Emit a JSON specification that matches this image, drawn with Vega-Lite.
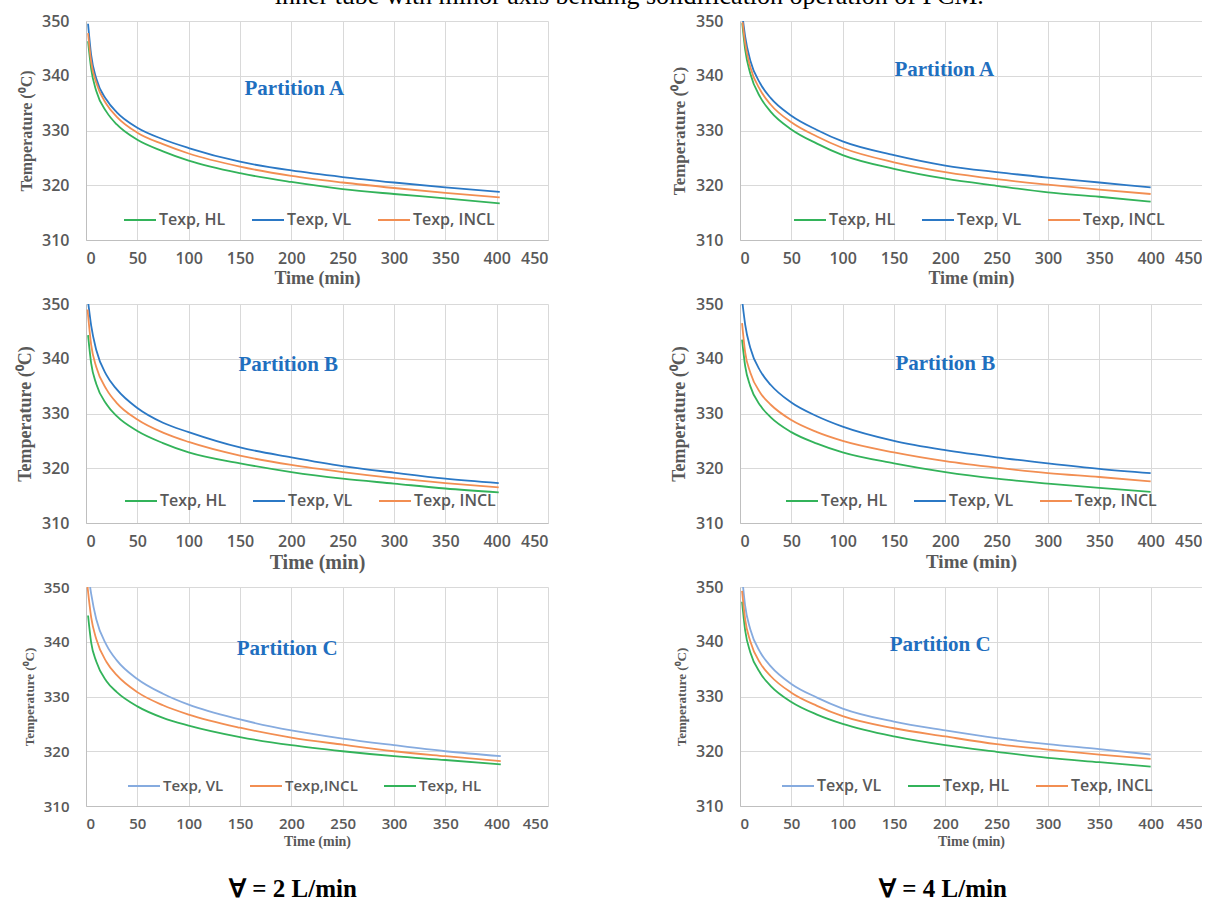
{
  "$schema": "https://vega.github.io/schema/vega-lite/v6.json",
  "background": "white",
  "padding": {"left": 16, "top": -17, "right": 0, "bottom": 0},
  "title": {"text": "inner tube with minor axis bending solidification operation of PCM.", "anchor": "middle", "orient": "top", "offset": 4, "dx": 20, "font": "Liberation Serif", "fontSize": 26, "fontWeight": "normal", "color": "#000000"},
  "datasets": {
    "curves": [
      {"p":"A2","s":"Texp, HL","t":2,"v":346.3},{"p":"A2","s":"Texp, HL","t":5,"v":341.3},{"p":"A2","s":"Texp, HL","t":10,"v":337.2},{"p":"A2","s":"Texp, HL","t":20,"v":333.4},{"p":"A2","s":"Texp, HL","t":30,"v":331.1},{"p":"A2","s":"Texp, HL","t":50,"v":328.3},{"p":"A2","s":"Texp, HL","t":75,"v":326.2},{"p":"A2","s":"Texp, HL","t":100,"v":324.5},{"p":"A2","s":"Texp, HL","t":150,"v":322.2},{"p":"A2","s":"Texp, HL","t":200,"v":320.6},{"p":"A2","s":"Texp, HL","t":250,"v":319.3},{"p":"A2","s":"Texp, HL","t":300,"v":318.4},{"p":"A2","s":"Texp, HL","t":350,"v":317.6},{"p":"A2","s":"Texp, HL","t":403,"v":316.7},
      {"p":"A2","s":"Texp, VL","t":2,"v":349.5},{"p":"A2","s":"Texp, VL","t":5,"v":343.8},{"p":"A2","s":"Texp, VL","t":10,"v":339.5},{"p":"A2","s":"Texp, VL","t":20,"v":335.6},{"p":"A2","s":"Texp, VL","t":30,"v":333.3},{"p":"A2","s":"Texp, VL","t":50,"v":330.5},{"p":"A2","s":"Texp, VL","t":75,"v":328.4},{"p":"A2","s":"Texp, VL","t":100,"v":326.8},{"p":"A2","s":"Texp, VL","t":150,"v":324.3},{"p":"A2","s":"Texp, VL","t":200,"v":322.7},{"p":"A2","s":"Texp, VL","t":250,"v":321.5},{"p":"A2","s":"Texp, VL","t":300,"v":320.5},{"p":"A2","s":"Texp, VL","t":350,"v":319.6},{"p":"A2","s":"Texp, VL","t":403,"v":318.8},
      {"p":"A2","s":"Texp, INCL","t":2,"v":347.8},{"p":"A2","s":"Texp, INCL","t":5,"v":342.6},{"p":"A2","s":"Texp, INCL","t":10,"v":338.7},{"p":"A2","s":"Texp, INCL","t":20,"v":334.8},{"p":"A2","s":"Texp, INCL","t":30,"v":332.5},{"p":"A2","s":"Texp, INCL","t":50,"v":329.6},{"p":"A2","s":"Texp, INCL","t":75,"v":327.5},{"p":"A2","s":"Texp, INCL","t":100,"v":325.8},{"p":"A2","s":"Texp, INCL","t":150,"v":323.4},{"p":"A2","s":"Texp, INCL","t":200,"v":321.7},{"p":"A2","s":"Texp, INCL","t":250,"v":320.5},{"p":"A2","s":"Texp, INCL","t":300,"v":319.5},{"p":"A2","s":"Texp, INCL","t":350,"v":318.6},{"p":"A2","s":"Texp, INCL","t":403,"v":317.8},

      {"p":"A4","s":"Texp, HL","t":2.2,"v":349.6},{"p":"A4","s":"Texp, HL","t":5,"v":344.8},{"p":"A4","s":"Texp, HL","t":10,"v":340.4},{"p":"A4","s":"Texp, HL","t":20,"v":336.0},{"p":"A4","s":"Texp, HL","t":30,"v":333.4},{"p":"A4","s":"Texp, HL","t":50,"v":330.2},{"p":"A4","s":"Texp, HL","t":75,"v":327.6},{"p":"A4","s":"Texp, HL","t":100,"v":325.5},{"p":"A4","s":"Texp, HL","t":150,"v":323.0},{"p":"A4","s":"Texp, HL","t":200,"v":321.2},{"p":"A4","s":"Texp, HL","t":250,"v":319.9},{"p":"A4","s":"Texp, HL","t":300,"v":318.7},{"p":"A4","s":"Texp, HL","t":350,"v":317.9},{"p":"A4","s":"Texp, HL","t":400,"v":317.0},
      {"p":"A4","s":"Texp, VL","t":3,"v":350.0},{"p":"A4","s":"Texp, VL","t":5,"v":347.2},{"p":"A4","s":"Texp, VL","t":10,"v":342.8},{"p":"A4","s":"Texp, VL","t":20,"v":338.5},{"p":"A4","s":"Texp, VL","t":30,"v":335.9},{"p":"A4","s":"Texp, VL","t":50,"v":332.7},{"p":"A4","s":"Texp, VL","t":75,"v":330.1},{"p":"A4","s":"Texp, VL","t":100,"v":328.0},{"p":"A4","s":"Texp, VL","t":150,"v":325.5},{"p":"A4","s":"Texp, VL","t":200,"v":323.6},{"p":"A4","s":"Texp, VL","t":250,"v":322.4},{"p":"A4","s":"Texp, VL","t":300,"v":321.4},{"p":"A4","s":"Texp, VL","t":350,"v":320.5},{"p":"A4","s":"Texp, VL","t":400,"v":319.6},
      {"p":"A4","s":"Texp, INCL","t":2.5,"v":349.8},{"p":"A4","s":"Texp, INCL","t":5,"v":346.0},{"p":"A4","s":"Texp, INCL","t":10,"v":341.6},{"p":"A4","s":"Texp, INCL","t":20,"v":337.3},{"p":"A4","s":"Texp, INCL","t":30,"v":334.7},{"p":"A4","s":"Texp, INCL","t":50,"v":331.5},{"p":"A4","s":"Texp, INCL","t":75,"v":328.9},{"p":"A4","s":"Texp, INCL","t":100,"v":326.8},{"p":"A4","s":"Texp, INCL","t":150,"v":324.2},{"p":"A4","s":"Texp, INCL","t":200,"v":322.4},{"p":"A4","s":"Texp, INCL","t":250,"v":321.1},{"p":"A4","s":"Texp, INCL","t":300,"v":320.1},{"p":"A4","s":"Texp, INCL","t":350,"v":319.2},{"p":"A4","s":"Texp, INCL","t":400,"v":318.4},

      {"p":"B2","s":"Texp, HL","t":2,"v":344.3},{"p":"B2","s":"Texp, HL","t":5,"v":339.2},{"p":"B2","s":"Texp, HL","t":10,"v":335.4},{"p":"B2","s":"Texp, HL","t":20,"v":331.7},{"p":"B2","s":"Texp, HL","t":30,"v":329.5},{"p":"B2","s":"Texp, HL","t":50,"v":326.8},{"p":"B2","s":"Texp, HL","t":75,"v":324.6},{"p":"B2","s":"Texp, HL","t":100,"v":322.9},{"p":"B2","s":"Texp, HL","t":150,"v":320.9},{"p":"B2","s":"Texp, HL","t":200,"v":319.3},{"p":"B2","s":"Texp, HL","t":250,"v":318.1},{"p":"B2","s":"Texp, HL","t":300,"v":317.2},{"p":"B2","s":"Texp, HL","t":350,"v":316.3},{"p":"B2","s":"Texp, HL","t":402,"v":315.6},
      {"p":"B2","s":"Texp, VL","t":2.3,"v":350.0},{"p":"B2","s":"Texp, VL","t":5,"v":346.1},{"p":"B2","s":"Texp, VL","t":10,"v":341.6},{"p":"B2","s":"Texp, VL","t":20,"v":337.0},{"p":"B2","s":"Texp, VL","t":30,"v":334.4},{"p":"B2","s":"Texp, VL","t":50,"v":331.0},{"p":"B2","s":"Texp, VL","t":75,"v":328.3},{"p":"B2","s":"Texp, VL","t":100,"v":326.6},{"p":"B2","s":"Texp, VL","t":150,"v":323.8},{"p":"B2","s":"Texp, VL","t":200,"v":322.0},{"p":"B2","s":"Texp, VL","t":250,"v":320.4},{"p":"B2","s":"Texp, VL","t":300,"v":319.2},{"p":"B2","s":"Texp, VL","t":350,"v":318.1},{"p":"B2","s":"Texp, VL","t":402,"v":317.3},
      {"p":"B2","s":"Texp, INCL","t":1.5,"v":349.0},{"p":"B2","s":"Texp, INCL","t":5,"v":342.6},{"p":"B2","s":"Texp, INCL","t":10,"v":338.5},{"p":"B2","s":"Texp, INCL","t":20,"v":334.4},{"p":"B2","s":"Texp, INCL","t":30,"v":331.9},{"p":"B2","s":"Texp, INCL","t":50,"v":328.9},{"p":"B2","s":"Texp, INCL","t":75,"v":326.5},{"p":"B2","s":"Texp, INCL","t":100,"v":324.8},{"p":"B2","s":"Texp, INCL","t":150,"v":322.3},{"p":"B2","s":"Texp, INCL","t":200,"v":320.6},{"p":"B2","s":"Texp, INCL","t":250,"v":319.3},{"p":"B2","s":"Texp, INCL","t":300,"v":318.2},{"p":"B2","s":"Texp, INCL","t":350,"v":317.3},{"p":"B2","s":"Texp, INCL","t":402,"v":316.5},

      {"p":"B4","s":"Texp, HL","t":2,"v":343.5},{"p":"B4","s":"Texp, HL","t":5,"v":338.7},{"p":"B4","s":"Texp, HL","t":10,"v":335.0},{"p":"B4","s":"Texp, HL","t":20,"v":331.4},{"p":"B4","s":"Texp, HL","t":30,"v":329.3},{"p":"B4","s":"Texp, HL","t":50,"v":326.6},{"p":"B4","s":"Texp, HL","t":75,"v":324.5},{"p":"B4","s":"Texp, HL","t":100,"v":322.9},{"p":"B4","s":"Texp, HL","t":150,"v":320.9},{"p":"B4","s":"Texp, HL","t":200,"v":319.3},{"p":"B4","s":"Texp, HL","t":250,"v":318.1},{"p":"B4","s":"Texp, HL","t":300,"v":317.2},{"p":"B4","s":"Texp, HL","t":350,"v":316.4},{"p":"B4","s":"Texp, HL","t":400,"v":315.7},
      {"p":"B4","s":"Texp, VL","t":2.5,"v":350.0},{"p":"B4","s":"Texp, VL","t":5,"v":346.3},{"p":"B4","s":"Texp, VL","t":10,"v":342.0},{"p":"B4","s":"Texp, VL","t":20,"v":337.7},{"p":"B4","s":"Texp, VL","t":30,"v":335.2},{"p":"B4","s":"Texp, VL","t":50,"v":332.0},{"p":"B4","s":"Texp, VL","t":75,"v":329.5},{"p":"B4","s":"Texp, VL","t":100,"v":327.6},{"p":"B4","s":"Texp, VL","t":150,"v":325.0},{"p":"B4","s":"Texp, VL","t":200,"v":323.3},{"p":"B4","s":"Texp, VL","t":250,"v":322.0},{"p":"B4","s":"Texp, VL","t":300,"v":320.9},{"p":"B4","s":"Texp, VL","t":350,"v":319.9},{"p":"B4","s":"Texp, VL","t":400,"v":319.1},
      {"p":"B4","s":"Texp, INCL","t":2,"v":346.5},{"p":"B4","s":"Texp, INCL","t":5,"v":341.2},{"p":"B4","s":"Texp, INCL","t":10,"v":337.5},{"p":"B4","s":"Texp, INCL","t":20,"v":333.7},{"p":"B4","s":"Texp, INCL","t":30,"v":331.6},{"p":"B4","s":"Texp, INCL","t":50,"v":328.8},{"p":"B4","s":"Texp, INCL","t":75,"v":326.6},{"p":"B4","s":"Texp, INCL","t":100,"v":325.0},{"p":"B4","s":"Texp, INCL","t":150,"v":322.9},{"p":"B4","s":"Texp, INCL","t":200,"v":321.3},{"p":"B4","s":"Texp, INCL","t":250,"v":320.1},{"p":"B4","s":"Texp, INCL","t":300,"v":319.1},{"p":"B4","s":"Texp, INCL","t":350,"v":318.4},{"p":"B4","s":"Texp, INCL","t":400,"v":317.6},

      {"p":"C2","s":"Texp, VL","t":4,"v":350.0},{"p":"C2","s":"Texp, VL","t":5,"v":348.8},{"p":"C2","s":"Texp, VL","t":10,"v":344.1},{"p":"C2","s":"Texp, VL","t":20,"v":339.4},{"p":"C2","s":"Texp, VL","t":30,"v":336.6},{"p":"C2","s":"Texp, VL","t":50,"v":333.2},{"p":"C2","s":"Texp, VL","t":75,"v":330.5},{"p":"C2","s":"Texp, VL","t":100,"v":328.5},{"p":"C2","s":"Texp, VL","t":150,"v":325.8},{"p":"C2","s":"Texp, VL","t":200,"v":323.8},{"p":"C2","s":"Texp, VL","t":250,"v":322.3},{"p":"C2","s":"Texp, VL","t":300,"v":321.1},{"p":"C2","s":"Texp, VL","t":350,"v":320.0},{"p":"C2","s":"Texp, VL","t":404,"v":319.1},
      {"p":"C2","s":"Texp,INCL","t":1.5,"v":350.0},{"p":"C2","s":"Texp,INCL","t":5,"v":344.5},{"p":"C2","s":"Texp,INCL","t":10,"v":340.5},{"p":"C2","s":"Texp,INCL","t":20,"v":336.3},{"p":"C2","s":"Texp,INCL","t":30,"v":333.9},{"p":"C2","s":"Texp,INCL","t":50,"v":330.8},{"p":"C2","s":"Texp,INCL","t":75,"v":328.4},{"p":"C2","s":"Texp,INCL","t":100,"v":326.7},{"p":"C2","s":"Texp,INCL","t":150,"v":324.3},{"p":"C2","s":"Texp,INCL","t":200,"v":322.5},{"p":"C2","s":"Texp,INCL","t":250,"v":321.2},{"p":"C2","s":"Texp,INCL","t":300,"v":320.0},{"p":"C2","s":"Texp,INCL","t":350,"v":319.1},{"p":"C2","s":"Texp,INCL","t":404,"v":318.2},
      {"p":"C2","s":"Texp, HL","t":2,"v":344.8},{"p":"C2","s":"Texp, HL","t":5,"v":339.9},{"p":"C2","s":"Texp, HL","t":10,"v":336.4},{"p":"C2","s":"Texp, HL","t":20,"v":332.8},{"p":"C2","s":"Texp, HL","t":30,"v":330.8},{"p":"C2","s":"Texp, HL","t":50,"v":328.2},{"p":"C2","s":"Texp, HL","t":75,"v":326.1},{"p":"C2","s":"Texp, HL","t":100,"v":324.7},{"p":"C2","s":"Texp, HL","t":150,"v":322.6},{"p":"C2","s":"Texp, HL","t":200,"v":321.1},{"p":"C2","s":"Texp, HL","t":250,"v":320.0},{"p":"C2","s":"Texp, HL","t":300,"v":319.1},{"p":"C2","s":"Texp, HL","t":350,"v":318.4},{"p":"C2","s":"Texp, HL","t":404,"v":317.6},

      {"p":"C4","s":"Texp, VL","t":3,"v":350.0},{"p":"C4","s":"Texp, VL","t":5,"v":346.6},{"p":"C4","s":"Texp, VL","t":10,"v":342.3},{"p":"C4","s":"Texp, VL","t":20,"v":338.0},{"p":"C4","s":"Texp, VL","t":30,"v":335.5},{"p":"C4","s":"Texp, VL","t":50,"v":332.3},{"p":"C4","s":"Texp, VL","t":75,"v":329.8},{"p":"C4","s":"Texp, VL","t":100,"v":327.8},{"p":"C4","s":"Texp, VL","t":150,"v":325.4},{"p":"C4","s":"Texp, VL","t":200,"v":323.8},{"p":"C4","s":"Texp, VL","t":250,"v":322.4},{"p":"C4","s":"Texp, VL","t":300,"v":321.3},{"p":"C4","s":"Texp, VL","t":350,"v":320.4},{"p":"C4","s":"Texp, VL","t":400,"v":319.4},
      {"p":"C4","s":"Texp, HL","t":2,"v":347.3},{"p":"C4","s":"Texp, HL","t":5,"v":342.1},{"p":"C4","s":"Texp, HL","t":10,"v":338.1},{"p":"C4","s":"Texp, HL","t":20,"v":334.2},{"p":"C4","s":"Texp, HL","t":30,"v":331.9},{"p":"C4","s":"Texp, HL","t":50,"v":329.0},{"p":"C4","s":"Texp, HL","t":75,"v":326.7},{"p":"C4","s":"Texp, HL","t":100,"v":325.0},{"p":"C4","s":"Texp, HL","t":150,"v":322.7},{"p":"C4","s":"Texp, HL","t":200,"v":321.1},{"p":"C4","s":"Texp, HL","t":250,"v":319.9},{"p":"C4","s":"Texp, HL","t":300,"v":318.8},{"p":"C4","s":"Texp, HL","t":350,"v":318.0},{"p":"C4","s":"Texp, HL","t":400,"v":317.2},
      {"p":"C4","s":"Texp, INCL","t":2,"v":349.3},{"p":"C4","s":"Texp, INCL","t":5,"v":344.1},{"p":"C4","s":"Texp, INCL","t":10,"v":340.1},{"p":"C4","s":"Texp, INCL","t":20,"v":336.0},{"p":"C4","s":"Texp, INCL","t":30,"v":333.7},{"p":"C4","s":"Texp, INCL","t":50,"v":330.7},{"p":"C4","s":"Texp, INCL","t":75,"v":328.3},{"p":"C4","s":"Texp, INCL","t":100,"v":326.4},{"p":"C4","s":"Texp, INCL","t":150,"v":324.2},{"p":"C4","s":"Texp, INCL","t":200,"v":322.7},{"p":"C4","s":"Texp, INCL","t":250,"v":321.3},{"p":"C4","s":"Texp, INCL","t":300,"v":320.3},{"p":"C4","s":"Texp, INCL","t":350,"v":319.4},{"p":"C4","s":"Texp, INCL","t":400,"v":318.6}
    ]
  },
  "columns": 2,
  "spacing": {"row": 64, "column": 192},
  "bounds": "flush",
  "concat": [
    {
      "width": 462, "height": 219,
      "layer": [
        {
          "data": {"name": "curves"},
          "transform": [{"filter": "datum.p == 'A2'"}],
          "mark": {"type": "line", "interpolate": "monotone", "strokeWidth": 1.8, "clip": true},
          "encoding": {
            "x": {"field": "t", "type": "quantitative", "scale": {"domain": [0, 450], "nice": false}, "axis": {"values": [0,50,100,150,200,250,300,350,400,450], "title": "Time (min)", "titleFontSize": 18}},
            "y": {"field": "v", "type": "quantitative", "scale": {"domain": [310, 350], "nice": false, "zero": false}, "axis": {"values": [310,320,330,340,350], "title": "Temperature (⁰C)", "titleFontSize": 16}},
            "color": {"field": "s", "type": "nominal", "scale": {"domain": ["Texp, HL", "Texp, VL", "Texp, INCL"], "range": ["#33b35a", "#2b78c5", "#f28e52"]}, "legend": {"orient": "none", "legendX": 37, "legendY": 182, "direction": "horizontal", "title": null}}
          }
        },
        {
          "data": {"values": [{"label": "Partition A", "t": 203, "v": 337.6}]},
          "mark": {"type": "text", "font": "Liberation Serif", "fontWeight": "bold", "fontSize": 21, "color": "#1f6fbf"},
          "encoding": {"x": {"field": "t", "type": "quantitative"}, "y": {"field": "v", "type": "quantitative"}, "text": {"field": "label"}}
        }
      ]
    },
    {
      "width": 462, "height": 219,
      "layer": [
        {
          "data": {"name": "curves"},
          "transform": [{"filter": "datum.p == 'A4'"}],
          "mark": {"type": "line", "interpolate": "monotone", "strokeWidth": 1.8, "clip": true},
          "encoding": {
            "x": {"field": "t", "type": "quantitative", "scale": {"domain": [0, 450], "nice": false}, "axis": {"values": [0,50,100,150,200,250,300,350,400,450], "title": "Time (min)", "titleFontSize": 18}},
            "y": {"field": "v", "type": "quantitative", "scale": {"domain": [310, 350], "nice": false, "zero": false}, "axis": {"values": [310,320,330,340,350], "title": "Temperature (⁰C)", "titleFontSize": 17}},
            "color": {"field": "s", "type": "nominal", "scale": {"domain": ["Texp, HL", "Texp, VL", "Texp, INCL"], "range": ["#33b35a", "#2b78c5", "#f28e52"]}, "legend": {"orient": "none", "legendX": 53, "legendY": 182, "direction": "horizontal", "title": null}}
          }
        },
        {
          "data": {"values": [{"label": "Partition A", "t": 199, "v": 341.0}]},
          "mark": {"type": "text", "font": "Liberation Serif", "fontWeight": "bold", "fontSize": 21, "color": "#1f6fbf"},
          "encoding": {"x": {"field": "t", "type": "quantitative"}, "y": {"field": "v", "type": "quantitative"}, "text": {"field": "label"}}
        }
      ]
    },
    {
      "width": 462, "height": 219,
      "layer": [
        {
          "data": {"name": "curves"},
          "transform": [{"filter": "datum.p == 'B2'"}],
          "mark": {"type": "line", "interpolate": "monotone", "strokeWidth": 1.8, "clip": true},
          "encoding": {
            "x": {"field": "t", "type": "quantitative", "scale": {"domain": [0, 450], "nice": false}, "axis": {"values": [0,50,100,150,200,250,300,350,400,450], "title": "Time (min)", "titleFontSize": 20}},
            "y": {"field": "v", "type": "quantitative", "scale": {"domain": [310, 350], "nice": false, "zero": false}, "axis": {"values": [310,320,330,340,350], "title": "Temperature (⁰C)", "titleFontSize": 18}},
            "color": {"field": "s", "type": "nominal", "scale": {"domain": ["Texp, HL", "Texp, VL", "Texp, INCL"], "range": ["#33b35a", "#2b78c5", "#f28e52"]}, "legend": {"orient": "none", "legendX": 38, "legendY": 180, "direction": "horizontal", "title": null}}
          }
        },
        {
          "data": {"values": [{"label": "Partition B", "t": 197, "v": 338.8}]},
          "mark": {"type": "text", "font": "Liberation Serif", "fontWeight": "bold", "fontSize": 21, "color": "#1f6fbf"},
          "encoding": {"x": {"field": "t", "type": "quantitative"}, "y": {"field": "v", "type": "quantitative"}, "text": {"field": "label"}}
        }
      ]
    },
    {
      "width": 462, "height": 219,
      "layer": [
        {
          "data": {"name": "curves"},
          "transform": [{"filter": "datum.p == 'B4'"}],
          "mark": {"type": "line", "interpolate": "monotone", "strokeWidth": 1.8, "clip": true},
          "encoding": {
            "x": {"field": "t", "type": "quantitative", "scale": {"domain": [0, 450], "nice": false}, "axis": {"values": [0,50,100,150,200,250,300,350,400,450], "title": "Time (min)", "titleFontSize": 19}},
            "y": {"field": "v", "type": "quantitative", "scale": {"domain": [310, 350], "nice": false, "zero": false}, "axis": {"values": [310,320,330,340,350], "title": "Temperature (⁰C)", "titleFontSize": 18}},
            "color": {"field": "s", "type": "nominal", "scale": {"domain": ["Texp, HL", "Texp, VL", "Texp, INCL"], "range": ["#33b35a", "#2b78c5", "#f28e52"]}, "legend": {"orient": "none", "legendX": 45, "legendY": 180, "direction": "horizontal", "title": null}}
          }
        },
        {
          "data": {"values": [{"label": "Partition B", "t": 200, "v": 339.0}]},
          "mark": {"type": "text", "font": "Liberation Serif", "fontWeight": "bold", "fontSize": 21, "color": "#1f6fbf"},
          "encoding": {"x": {"field": "t", "type": "quantitative"}, "y": {"field": "v", "type": "quantitative"}, "text": {"field": "label"}}
        }
      ]
    },
    {
      "width": 462, "height": 219,
      "title": {"text": "∀ = 2 L/min", "orient": "bottom", "anchor": "middle", "offset": 29, "dx": -24, "font": "Liberation Serif", "fontSize": 25, "fontWeight": "bold", "color": "#000000"},
      "layer": [
        {
          "data": {"name": "curves"},
          "transform": [{"filter": "datum.p == 'C2'"}],
          "mark": {"type": "line", "interpolate": "monotone", "strokeWidth": 1.8, "clip": true},
          "encoding": {
            "x": {"field": "t", "type": "quantitative", "scale": {"domain": [0, 450], "nice": false}, "axis": {"values": [0,50,100,150,200,250,300,350,400,450], "title": "Time (min)", "titleFontSize": 14, "labelFontSize": 15}},
            "y": {"field": "v", "type": "quantitative", "scale": {"domain": [310, 350], "nice": false, "zero": false}, "axis": {"values": [310,320,330,340,350], "title": "Temperature (⁰C)", "titleFontSize": 13, "labelFontSize": 15}},
            "color": {"field": "s", "type": "nominal", "scale": {"domain": ["Texp, VL", "Texp,INCL", "Texp, HL"], "range": ["#86abdf", "#f28e52", "#33b35a"]}, "legend": {"orient": "none", "legendX": 41, "legendY": 182, "direction": "horizontal", "title": null, "labelFontSize": 15}}
          }
        },
        {
          "data": {"values": [{"label": "Partition C", "t": 196, "v": 338.7}]},
          "mark": {"type": "text", "font": "Liberation Serif", "fontWeight": "bold", "fontSize": 21, "color": "#1f6fbf"},
          "encoding": {"x": {"field": "t", "type": "quantitative"}, "y": {"field": "v", "type": "quantitative"}, "text": {"field": "label"}}
        }
      ]
    },
    {
      "width": 462, "height": 219,
      "title": {"text": "∀ = 4 L/min", "orient": "bottom", "anchor": "middle", "offset": 29, "dx": -28, "font": "Liberation Serif", "fontSize": 25, "fontWeight": "bold", "color": "#000000"},
      "layer": [
        {
          "data": {"name": "curves"},
          "transform": [{"filter": "datum.p == 'C4'"}],
          "mark": {"type": "line", "interpolate": "monotone", "strokeWidth": 1.8, "clip": true},
          "encoding": {
            "x": {"field": "t", "type": "quantitative", "scale": {"domain": [0, 450], "nice": false}, "axis": {"values": [0,50,100,150,200,250,300,350,400,450], "title": "Time (min)", "titleFontSize": 14, "labelFontSize": 15}},
            "y": {"field": "v", "type": "quantitative", "scale": {"domain": [310, 350], "nice": false, "zero": false}, "axis": {"values": [310,320,330,340,350], "title": "Temperature (⁰C)", "titleFontSize": 13}},
            "color": {"field": "s", "type": "nominal", "scale": {"domain": ["Texp, VL", "Texp, HL", "Texp, INCL"], "range": ["#86abdf", "#33b35a", "#f28e52"]}, "legend": {"orient": "none", "legendX": 41, "legendY": 182, "direction": "horizontal", "title": null}}
          }
        },
        {
          "data": {"values": [{"label": "Partition C", "t": 195, "v": 339.4}]},
          "mark": {"type": "text", "font": "Liberation Serif", "fontWeight": "bold", "fontSize": 21, "color": "#1f6fbf"},
          "encoding": {"x": {"field": "t", "type": "quantitative"}, "y": {"field": "v", "type": "quantitative"}, "text": {"field": "label"}}
        }
      ]
    }
  ],
  "resolve": {"scale": {"color": "independent"}, "legend": {"color": "independent"}},
  "config": {
    "view": {"stroke": null},
    "axis": {
      "grid": true, "gridColor": "#d9d9d9", "gridWidth": 1,
      "domainColor": "#bfbfbf", "ticks": false,
      "labelFont": "Open Sans", "labelFontWeight": 600, "labelFontSize": 16, "labelColor": "#595959",
      "titleFont": "Liberation Serif", "titleFontWeight": "bold", "titleFontSize": 16, "titleColor": "#595959"
    },
    "axisY": {"labelPadding": 17, "titlePadding": 7},
    "axisX": {"labelPadding": 10, "titlePadding": 3},
    "legend": {
      "symbolType": "stroke", "symbolSize": 1024, "symbolStrokeWidth": 2,
      "labelFont": "Open Sans", "labelFontSize": 16, "labelFontWeight": 600, "labelColor": "#595959",
      "labelOffset": 2, "columnPadding": 22
    }
  }
}
